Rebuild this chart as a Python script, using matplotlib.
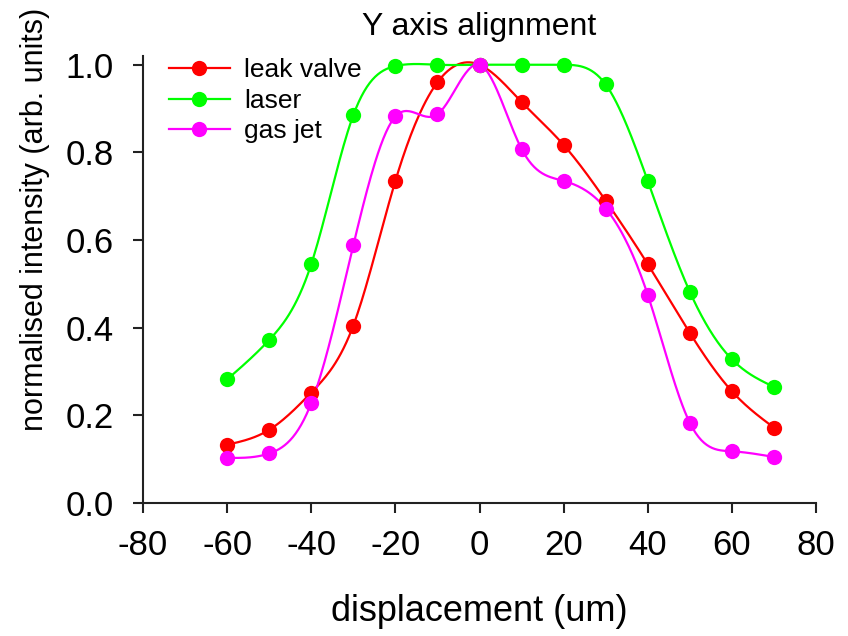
import numpy as np
import matplotlib.pyplot as plt
from matplotlib.lines import Line2D

plt.rcParams['font.family'] = ['Liberation Sans', 'DejaVu Sans']
plt.rcParams['axes.unicode_minus'] = False

# data
displacement = [-60, -50, -40, -30, -20, -10, 0, 10, 20, 30, 40, 50, 60, 70]
leak_valve = [0.133, 0.167, 0.252, 0.405, 0.735, 0.960, 1.000,
              0.915, 0.817, 0.690, 0.545, 0.388, 0.255, 0.172]
laser = [0.282, 0.372, 0.545, 0.885, 0.997, 1.000, 1.000,
         1.000, 1.000, 0.955, 0.735, 0.482, 0.328, 0.265]
gas_jet = [0.103, 0.113, 0.228, 0.588, 0.882, 0.887, 1.000,
           0.808, 0.735, 0.672, 0.475, 0.183, 0.118, 0.105]

series = [("leak valve", leak_valve, "#ff0000"),
          ("laser", laser, "#00ff00"),
          ("gas jet", gas_jet, "#ff00ff")]


def smooth(x, y, n=400):
    # natural cubic spline through the points, only for drawing the line
    x = np.asarray(x, float)
    y = np.asarray(y, float)
    k = len(x)
    h = np.diff(x)
    A = np.zeros((k, k))
    b = np.zeros(k)
    A[0, 0] = A[-1, -1] = 1
    for i in range(1, k - 1):
        A[i, i - 1] = h[i - 1]
        A[i, i] = 2 * (h[i - 1] + h[i])
        A[i, i + 1] = h[i]
        b[i] = 6 * ((y[i + 1] - y[i]) / h[i] - (y[i] - y[i - 1]) / h[i - 1])
    M = np.linalg.solve(A, b)
    xs = np.linspace(x[0], x[-1], n)
    j = np.clip(np.searchsorted(x, xs) - 1, 0, k - 2)
    t0 = x[j + 1] - xs
    t1 = xs - x[j]
    hj = h[j]
    ys = (M[j] * t0**3 + M[j + 1] * t1**3) / (6 * hj) \
        + (y[j] / hj - M[j] * hj / 6) * t0 + (y[j + 1] / hj - M[j + 1] * hj / 6) * t1
    return xs, ys


fig = plt.figure(figsize=(8.48, 6.36), dpi=100)
ax = fig.add_axes([143 / 848, 1 - 503 / 636, 673 / 848, 447 / 636])

handles = []
for name, vals, col in series:
    xs, ys = smooth(displacement, vals)
    ax.plot(xs, ys, color=col, lw=1.6, zorder=2)
    ax.plot(displacement, vals, 'o', color=col, ms=11, mec='none', zorder=3)
    handles.append(Line2D([], [], color=col, lw=1.6, marker='o', ms=11, mec='none'))

ax.set_xlim(-80, 80)
ax.set_ylim(0, 1.02)
ax.set_xticks(np.arange(-80, 81, 20))
ax.set_yticks(np.arange(0, 1.01, 0.2))
ax.yaxis.set_major_formatter(plt.FormatStrFormatter('%.1f'))

for s in ['top', 'right']:
    ax.spines[s].set_visible(False)
for s in ['left', 'bottom']:
    ax.spines[s].set_linewidth(1.5)
    ax.spines[s].set_color('#222222')
ax.tick_params(direction='out', length=7, width=1.5, color='#222222',
               labelsize=25)
ax.tick_params(axis='y', pad=14)
ax.tick_params(axis='x', pad=12)

ax.set_title('Y axis alignment', fontsize=23, pad=15)
ax.set_xlabel('displacement (um)', fontsize=26, labelpad=23)
ax.set_ylabel('normalised intensity (arb. units)', fontsize=22)
ax.yaxis.set_label_coords(-0.138, 0.635)

ax.legend(handles, [s[0] for s in series], loc='upper left',
          bbox_to_anchor=(0.0386, 0.995), frameon=False, fontsize=19,
          handlelength=2.3, handletextpad=0.55, labelspacing=0.25,
          borderpad=0, borderaxespad=0)

fig.savefig('out.png', dpi=100)
